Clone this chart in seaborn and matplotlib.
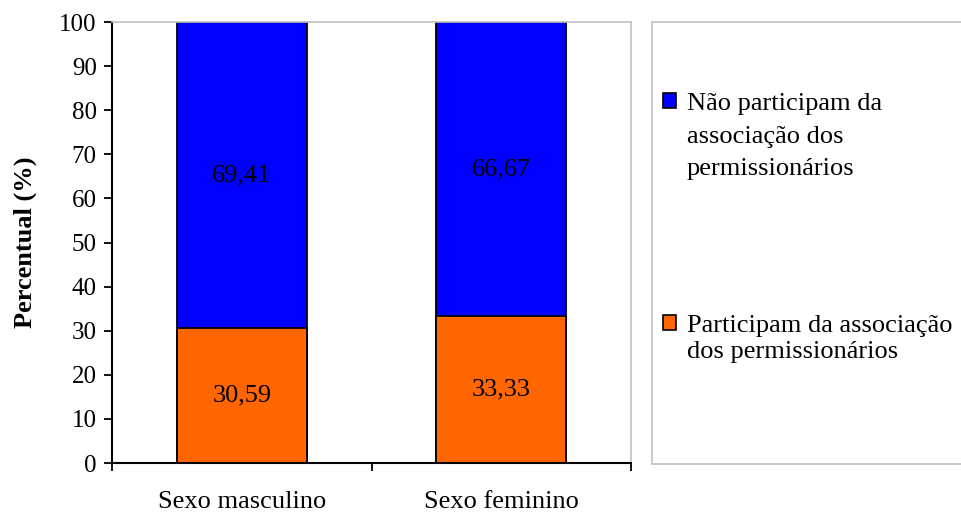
import matplotlib
matplotlib.use("Agg")
import matplotlib.pyplot as plt
import matplotlib.patches as mpatches
import seaborn as sns
import pandas as pd

categories = ["Sexo masculino", "Sexo feminino"]
participam = [30.59, 33.33]
nao_participam = [69.41, 66.67]
series_labels = ["Não participam da\nassociação dos\npermissionários",
                 "Participam da associação\ndos permissionários"]
yticks = list(range(0, 101, 10))

sns.set_theme(style="white")
plt.rcParams["font.family"] = ["Liberation Serif", "DejaVu Serif"]
plt.rcParams["text.color"] = "black"
plt.rcParams["xtick.color"] = "black"
plt.rcParams["ytick.color"] = "black"
plt.rcParams["axes.labelcolor"] = "black"

FS = 19

df = pd.DataFrame({
    "cat": categories,
    "part": participam,
    "nao": nao_participam,
})
df["total"] = df["part"] + df["nao"]

fig = plt.figure(figsize=(9.61, 5.14), dpi=100)
ax = fig.add_axes([112 / 961, 51 / 514, 519 / 961, 441 / 514])

blue = "#0000FF"
orange = "#FF6600"

sns.barplot(data=df, x="cat", y="total", color=blue, width=0.5,
            edgecolor="black", linewidth=1.3, saturation=1, ax=ax)
sns.barplot(data=df, x="cat", y="part", color=orange, width=0.5,
            edgecolor="black", linewidth=1.3, saturation=1, ax=ax)

for i, (p, n) in enumerate(zip(participam, nao_participam)):
    ax.text(i, p / 2, f"{p:.2f}".replace(".", ","), ha="center", va="center",
            fontsize=FS, color="black")
    ax.text(i, p + n / 2, f"{n:.2f}".replace(".", ","), ha="center", va="center",
            fontsize=FS, color="black")

ax.set_xlim(-0.5, 1.5)
ax.set_ylim(0, 100)
ax.set_yticks(yticks)
ax.set_yticklabels([str(t) for t in yticks], fontsize=18)
ax.tick_params(axis="y", direction="out", length=6, width=1.3, pad=5,
               colors="black", left=True)

ax.set_xticks([-0.5, 0.5, 1.5])
ax.set_xticklabels(["", "", ""])
ax.set_xticks([0, 1], minor=True)
ax.set_xticklabels(categories, minor=True, fontsize=FS)
ax.tick_params(axis="x", which="major", direction="out", length=6, width=1.3,
               bottom=True, colors="black")
ax.tick_params(axis="x", which="minor", length=0, pad=20, bottom=True,
               colors="black")

ax.set_xlabel("")
ax.set_ylabel("Percentual (%)", fontsize=19, fontweight="bold", labelpad=16)

for s in ["left", "bottom"]:
    ax.spines[s].set_color("black")
    ax.spines[s].set_linewidth(1.5)
for s in ["top", "right"]:
    ax.spines[s].set_color("#c0c0c0")
    ax.spines[s].set_linewidth(1.2)
ax.spines["top"].set_visible(True)
ax.spines["right"].set_visible(True)

# Legend frame
frame = mpatches.Rectangle((652 / 961, 50 / 514), 0.5, 442 / 514,
                           transform=fig.transFigure, facecolor="white",
                           edgecolor="#c0c0c0", linewidth=1.2, zorder=0)
fig.patches.append(frame)

handles = [mpatches.Patch(facecolor=blue, edgecolor="black", linewidth=1.2),
           mpatches.Patch(facecolor=orange, edgecolor="black", linewidth=1.2)]
leg = fig.legend(handles, series_labels, loc="upper left",
                 bbox_to_anchor=(663 / 961, (514 - 93) / 514), frameon=False,
                 fontsize=FS, handlelength=0.5, handleheight=0.5,
                 handletextpad=0.4, labelspacing=5.1, borderaxespad=0,
                 borderpad=0, labelcolor="black")
texts = leg.get_texts()
texts[0].set_linespacing(1.62)
texts[1].set_linespacing(1.25)
# align each handle with the first line of its label
for col in leg._legend_handle_box.get_children():
    for hp in col.get_children():
        hp.align = "top"

fig.savefig("out.png", dpi=100)
